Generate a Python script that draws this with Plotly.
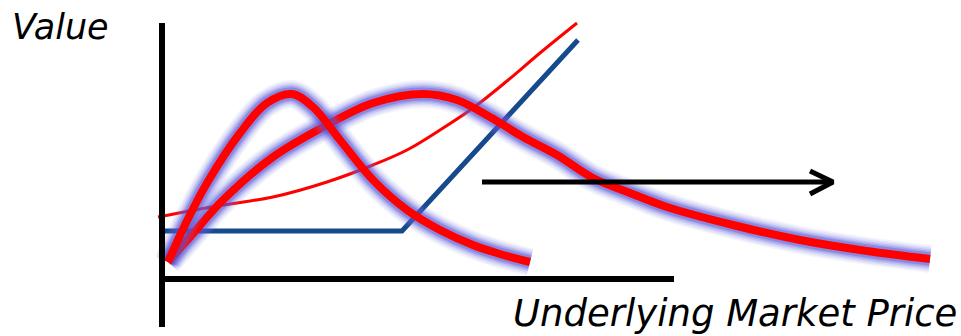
import plotly.graph_objects as go

# diagram drawn in a 961 x 336 coordinate space (y grows downward)
axis_v_x = [162, 162]
axis_v_y = [23, 327]
axis_h_x = [159, 674]
axis_h_y = [279, 279]

# thin red: option value curve
call_x = [158, 223, 273, 327, 373, 407, 440, 473, 507, 540, 577]
call_y = [217, 205, 197, 182, 165, 150, 130, 108, 81, 53, 23]

# blue: intrinsic value (hockey stick)
intrinsic_x = [162, 402, 578]
intrinsic_y = [231, 231, 40]

# thick red curves with glow
narrow_x = [168, 185, 207, 240, 267, 292, 313, 340, 373, 407, 440, 473, 500, 530]
narrow_y = [262, 225, 183, 133, 103, 94, 107, 140, 180, 210, 230, 245, 254, 262]

wide_x = [168, 190, 223, 273, 327, 373, 423, 457, 490, 523, 557, 593, 630, 667, 733, 800, 867, 930]
wide_y = [262, 237, 200, 157, 125, 103, 94, 100, 117, 137, 155, 178, 193, 207, 225, 240, 251, 259]

# arrow to the right
arrow_x = [482, 831]
arrow_y = [182, 182]
head_x = [810, 833, 810]
head_y = [171, 182, 194]

fig = go.Figure()

def add_line(x, y, color, width, shape="linear"):
    fig.add_trace(go.Scatter(x=x, y=y, mode="lines", hoverinfo="skip",
                             line=dict(color=color, width=width, shape=shape, smoothing=1)))

add_line(call_x, call_y, "#ff0000", 3, "spline")
add_line(intrinsic_x, intrinsic_y, "#174a8c", 5)

# soft blue halo, faked with stacked translucent strokes
glow = [(28, "rgba(120,120,230,0.08)"), (25, "rgba(115,115,228,0.10)"),
        (22, "rgba(105,105,225,0.13)"), (19, "rgba(95,95,222,0.18)"),
        (16, "rgba(85,85,218,0.24)"), (13, "rgba(75,75,210,0.32)")]
for cx, cy in [(wide_x, wide_y), (narrow_x, narrow_y)]:
    for w, c in glow:
        add_line(cx, cy, c, w, "spline")
    add_line(cx, cy, "#ff0000", 8, "spline")

add_line(axis_v_x, axis_v_y, "#000000", 6)
add_line(axis_h_x, axis_h_y, "#000000", 6)
add_line(arrow_x, arrow_y, "#000000", 5)
add_line(head_x, head_y, "#000000", 5)

fig.add_annotation(x=10, y=27, text="Value", showarrow=False, xanchor="left", yanchor="middle",
                   font=dict(family="DejaVu Sans", size=35, style="italic", color="#000000"))
fig.add_annotation(x=959, y=313, text="Underlying Market Price", showarrow=False,
                   xanchor="right", yanchor="middle",
                   font=dict(family="DejaVu Sans", size=37, style="italic", color="#000000"))

fig.update_layout(width=961, height=336, margin=dict(l=0, r=0, t=0, b=0),
                  showlegend=False, plot_bgcolor="white", paper_bgcolor="white",
                  xaxis=dict(range=[0, 961], visible=False, fixedrange=True),
                  yaxis=dict(range=[336, 0], visible=False, fixedrange=True))

# page body has a default 8px margin, drop it so the figure sits at 0,0
fig.write_html("out.html", config={"displayModeBar": False},
               post_script="document.body.style.margin='0';")
